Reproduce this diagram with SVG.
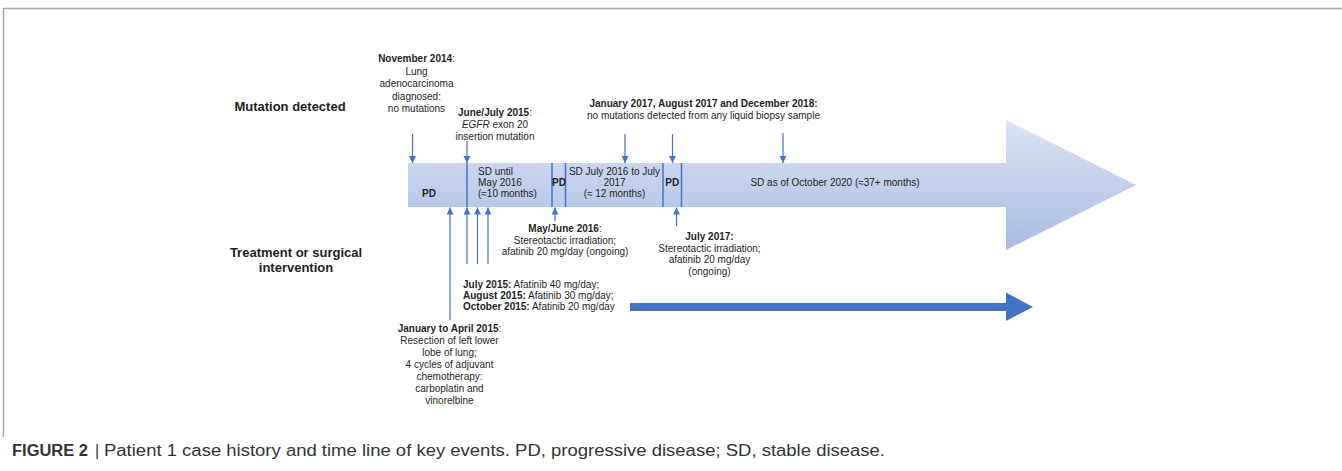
<svg xmlns="http://www.w3.org/2000/svg" width="1342" height="471" viewBox="0 0 1342 471">
<style>
text{font-family:"Liberation Sans",Arial,sans-serif;fill:#1e1e1e;font-size:10px}
.b{font-weight:bold}
.c{text-anchor:middle}
.h{font-size:13px;font-weight:bold}
.ln{stroke:#4472c4;stroke-width:1.2;fill:none}
.dv{stroke:#4472c4;stroke-width:1.5}
.cap{font-size:16px;fill:#333}
</style>
<defs>
<marker id="ah" markerUnits="userSpaceOnUse" markerWidth="8" markerHeight="8" refX="7" refY="3.5" orient="auto">
<path d="M0,0 L7,3.5 L0,7 z" fill="#4472c4"/>
</marker>
<linearGradient id="g" gradientUnits="userSpaceOnUse" x1="0" y1="120" x2="0" y2="250">
<stop offset="0" stop-color="#dbe4f4"/>
<stop offset="1" stop-color="#a7bbe2"/>
</linearGradient>
</defs>
<rect width="1342" height="471" fill="#fff"/>
<g id="frame">
<path d="M3.5,437 V8.5 H1342" fill="none" stroke="#a6a6a6" stroke-width="1.5"/>
</g>
<g id="timeline">
<path d="M408,163 H1006 V120 L1136,185 L1006,250 V207 H408 Z" fill="url(#g)"/>
<line class="dv" x1="467" y1="163" x2="467" y2="207"/>
<line class="dv" x1="552" y1="163" x2="552" y2="207"/>
<line class="dv" x1="565.5" y1="163" x2="565.5" y2="207"/>
<line class="dv" x1="663" y1="163" x2="663" y2="207"/>
<line class="dv" x1="681.5" y1="163" x2="681.5" y2="207"/>
</g>
<g id="row-labels">
<text class="h c" x="290" y="111">Mutation detected</text>
<text class="h c" x="296" y="257">Treatment or surgical</text>
<text class="h c" x="296" y="272">intervention</text>
</g>
<g id="phase-pd1"><text class="b c" x="429" y="197">PD</text></g>
<g id="phase-sd1">
<text x="478" y="175">SD until</text>
<text x="478" y="186">May 2016</text>
<text x="478" y="197">(≈10 months)</text>
</g>
<g id="phase-pd2"><text class="b c" x="559" y="186">PD</text></g>
<g id="phase-sd2">
<text class="c" x="614.5" y="175">SD July 2016 to  July</text>
<text class="c" x="614.5" y="186">2017</text>
<text class="c" x="614.5" y="197">(≈ 12 months)</text>
</g>
<g id="phase-pd3"><text class="b c" x="672.3" y="186">PD</text></g>
<g id="phase-sd3"><text class="c" x="835" y="186">SD as of October 2020 (≈37+ months)</text></g>
<g id="ev-nov2014">
<text class="c" x="416.5" y="62"><tspan class="b">November 2014</tspan>:</text>
<text class="c" x="416.5" y="74.5">Lung</text>
<text class="c" x="416.5" y="87">adenocarcinoma</text>
<text class="c" x="416.5" y="99.5">diagnosed:</text>
<text class="c" x="416.5" y="112">no mutations</text>
</g>
<g id="ev-jun2015">
<text class="c" x="495" y="116"><tspan class="b">June/July 2015</tspan>:</text>
<text class="c" x="495" y="128"><tspan font-style="italic">EGFR</tspan> exon 20</text>
<text class="c" x="495" y="140">insertion mutation</text>
</g>
<g id="ev-liquid">
<text class="b c" x="703.5" y="107">January 2017, August 2017 and December 2018:</text>
<text class="c" x="703.5" y="119">no mutations detected from any liquid biopsy sample</text>
</g>
<g id="ev-may2016">
<text class="c" x="565" y="232"><tspan class="b">May/June 2016</tspan>:</text>
<text class="c" x="565" y="243.5">Stereotactic irradiation;</text>
<text class="c" x="565" y="255">afatinib 20 mg/day (ongoing)</text>
</g>
<g id="ev-jul2017">
<text class="b c" x="709.5" y="240">July 2017:</text>
<text class="c" x="709.5" y="251.5">Stereotactic irradiation;</text>
<text class="c" x="709.5" y="263">afatinib 20 mg/day</text>
<text class="c" x="709.5" y="275">(ongoing)</text>
</g>
<g id="ev-afatinib">
<text x="463" y="288"><tspan class="b">July 2015:</tspan> Afatinib 40 mg/day;</text>
<text x="463" y="299"><tspan class="b">August 2015:</tspan> Afatinib 30 mg/day;</text>
<text x="463" y="310"><tspan class="b">October 2015:</tspan> Afatinib 20 mg/day</text>
</g>
<g id="ev-jan2015">
<text class="b c" x="449.5" y="332">January to April 2015<tspan font-weight="normal">:</tspan></text>
<text class="c" x="449.5" y="344">Resection of left lower</text>
<text class="c" x="449.5" y="356">lobe of lung;</text>
<text class="c" x="449.5" y="368">4 cycles of adjuvant</text>
<text class="c" x="449.5" y="380">chemotherapy:</text>
<text class="c" x="449.5" y="392">carboplatin and</text>
<text class="c" x="449.5" y="404">vinorelbine</text>
</g>
<g id="connectors">
<line class="ln" x1="412.5" y1="134" x2="412.5" y2="163" marker-end="url(#ah)"/>
<line class="ln" x1="467" y1="141" x2="467" y2="163" marker-end="url(#ah)"/>
<line class="ln" x1="625" y1="134" x2="625" y2="163" marker-end="url(#ah)"/>
<line class="ln" x1="672.5" y1="134" x2="672.5" y2="163" marker-end="url(#ah)"/>
<line class="ln" x1="783" y1="133" x2="783" y2="163" marker-end="url(#ah)"/>
<line class="ln" x1="450" y1="320" x2="450" y2="207.5" marker-end="url(#ah)"/>
<line class="ln" x1="467" y1="264" x2="467" y2="207.5" marker-end="url(#ah)"/>
<line class="ln" x1="477.5" y1="264" x2="477.5" y2="207.5" marker-end="url(#ah)"/>
<line class="ln" x1="488" y1="264" x2="488" y2="207.5" marker-end="url(#ah)"/>
<line class="ln" x1="555" y1="221" x2="555" y2="207.5" marker-end="url(#ah)"/>
<line class="ln" x1="676.5" y1="226" x2="676.5" y2="207.5" marker-end="url(#ah)"/>
<path d="M630,303 H1006 V292.5 L1033,307 L1006,321 V311 H630 Z" fill="#4472c4"/>
</g>
<g id="caption">
<text class="cap" x="12" y="456" font-weight="bold" fill="#222" textLength="76" lengthAdjust="spacingAndGlyphs">FIGURE 2</text>
<text class="cap" x="95" y="456" fill="#999">|</text>
<text class="cap" x="104" y="456" textLength="781" lengthAdjust="spacingAndGlyphs">Patient 1 case history and time line of key events. PD, progressive disease; SD, stable disease.</text>
</g>
</svg>
